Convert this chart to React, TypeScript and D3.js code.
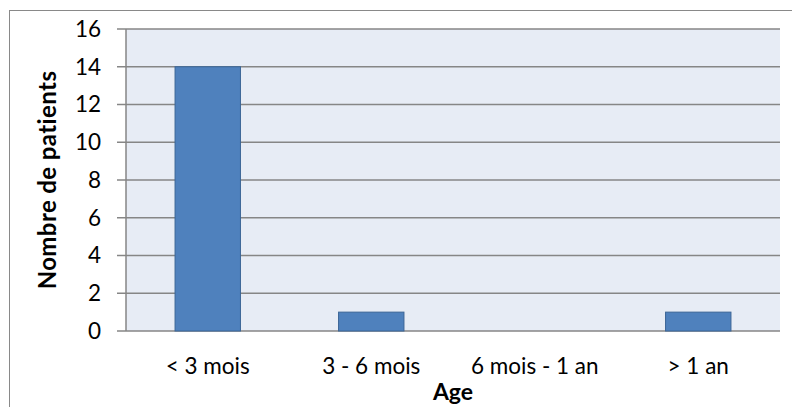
import React from 'react';
import * as d3 from 'd3';

const categories = ['< 3 mois', '3 - 6 mois', '6 mois - 1 an', '> 1 an'];
const patients = [14, 1, 0, 1];
const yTicks = [0, 2, 4, 6, 8, 10, 12, 14, 16];

const W = 792;
const H = 407;
const margin = { left: 126, top: 29, right: 12, bottom: 76 };
const font = 'Lato, "Open Sans", sans-serif';

const App: React.FC = () => {
  const x = d3
    .scaleBand<string>()
    .domain(categories)
    .range([margin.left, W - margin.right])
    .paddingInner(0.6)
    .paddingOuter(0.3);
  const band = d3.scaleBand<string>().domain(categories).range([margin.left, W - margin.right]);
  const y = d3.scaleLinear().domain([0, 16]).range([H - margin.bottom, margin.top]);

  return (
    <svg
      width={W}
      height={H}
      style={{ position: 'absolute', left: 0, top: 0 }}
      fontFamily={font}
    >
      <rect x={0} y={0} width={W} height={H} fill="#fff" />
      <rect x={9.5} y={10.5} width={W} height={H} fill="none" stroke="#898989" strokeWidth={1} />
      <rect
        x={margin.left}
        y={margin.top}
        width={W - margin.left - margin.right}
        height={H - margin.top - margin.bottom}
        fill="#e7ecf5"
      />
      {yTicks.map((t) => (
        <g key={t}>
          <line x1={117} x2={W - margin.right} y1={y(t)} y2={y(t)} stroke="#868686" strokeWidth={1.5} />
          <text x={101} y={y(t)} dy="0.35em" textAnchor="end" fontSize={22.5} fill="#000">
            {t}
          </text>
        </g>
      ))}
      <line x1={margin.left} x2={margin.left} y1={margin.top} y2={y(0)} stroke="#868686" strokeWidth={1.5} />
      {categories.map((c, i) =>
        patients[i] > 0 ? (
          <rect
            key={c}
            x={x(c)!}
            y={y(patients[i])}
            width={x.bandwidth()}
            height={y(0) - y(patients[i])}
            fill="#4f81bd"
            stroke="#3b6596"
            strokeWidth={1}
          />
        ) : null
      )}
      {categories.map((c) => (
        <text
          key={c}
          x={band(c)! + band.bandwidth() / 2}
          y={366}
          dy="0.35em"
          textAnchor="middle"
          fontSize={22.5}
          fill="#000"
        >
          {c}
        </text>
      ))}
      <text
        x={(margin.left + W - margin.right) / 2}
        y={392}
        dy="0.35em"
        textAnchor="middle"
        fontSize={23}
        fontWeight="bold"
      >
        Age
      </text>
      <text
        transform={`translate(48,${(margin.top + y(0)) / 2}) rotate(-90)`}
        dy="0.35em"
        textAnchor="middle"
        fontSize={24}
        letterSpacing={0.4}
        fontWeight="bold"
      >
        Nombre de patients
      </text>
    </svg>
  );
};

export default App;
